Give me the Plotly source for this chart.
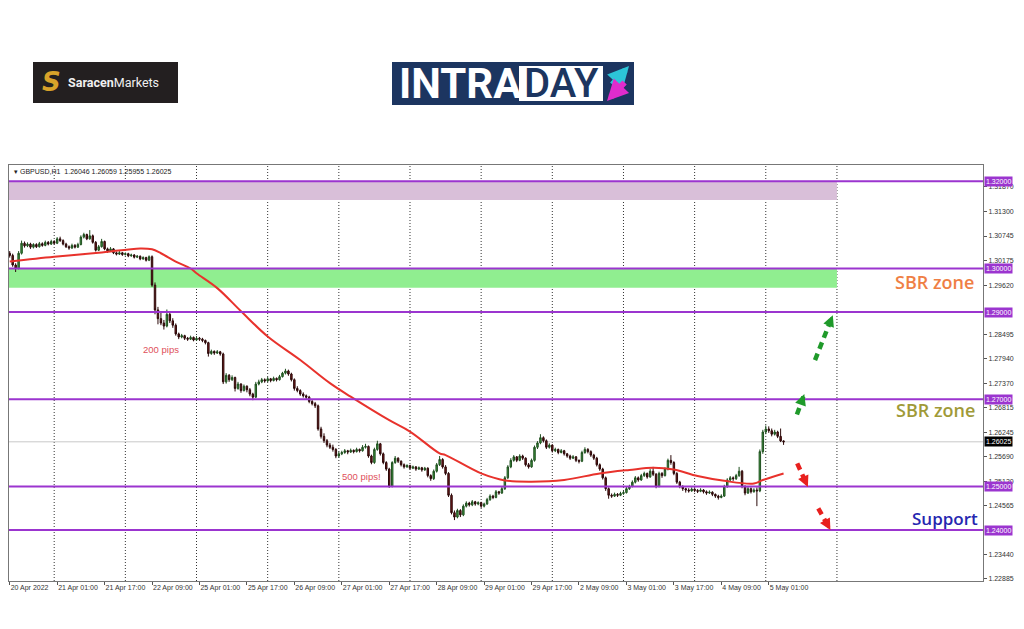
import math
import plotly.graph_objects as go

# ---------------- data ----------------
time_labels = ["20 Apr 2022", "21 Apr 01:00", "21 Apr 17:00", "22 Apr 09:00", "25 Apr 01:00",
               "25 Apr 17:00", "26 Apr 09:00", "27 Apr 01:00", "27 Apr 17:00", "28 Apr 09:00",
               "29 Apr 01:00", "29 Apr 17:00", "2 May 09:00", "3 May 01:00", "3 May 17:00",
               "4 May 09:00", "5 May 01:00"]
label_bars = [0, 16, 32, 48, 64, 80, 96, 112, 128, 144, 160, 176, 192, 208, 224, 240, 256]
day_breaks = [15, 39, 63, 87, 111, 135, 159, 183, 207, 231, 255, 279]

price_ticks = [1.22885, 1.23440, 1.24565, 1.25120, 1.25690, 1.26245, 1.26815, 1.27370,
               1.27940, 1.28495, 1.29620, 1.30175, 1.30745, 1.31300, 1.31870]

opens = [
 1.3035, 1.3030, 1.3008, 1.3000, 1.3035, 1.3058, 1.3052, 1.3056, 1.3049, 1.3055,
 1.3050, 1.3057, 1.3053, 1.3060, 1.3056, 1.3062, 1.3058, 1.3068, 1.3064, 1.3056,
 1.3050, 1.3047, 1.3053, 1.3049, 1.3055, 1.3072, 1.3078, 1.3068, 1.3075, 1.3060,
 1.3042, 1.3050, 1.3062, 1.3045, 1.3040, 1.3045, 1.3036, 1.3033, 1.3036, 1.3032,
 1.3034, 1.3029, 1.3031, 1.3026, 1.3028, 1.3022, 1.3025, 1.3019, 1.3027, 1.2962,
 1.2905, 1.2885, 1.2875, 1.2868, 1.2895, 1.2880, 1.2870, 1.2850, 1.2843, 1.2846,
 1.2840, 1.2838, 1.2842, 1.2836, 1.2840, 1.2838, 1.2835, 1.2830, 1.2805, 1.2810,
 1.2806, 1.2809, 1.2804, 1.2740, 1.2755, 1.2745, 1.2750, 1.2725, 1.2735, 1.2720,
 1.2730, 1.2722, 1.2712, 1.2705, 1.2735, 1.2740, 1.2745, 1.2742, 1.2747, 1.2743,
 1.2748, 1.2745, 1.2752, 1.2760, 1.2765, 1.2758, 1.2745, 1.2725, 1.2720, 1.2712,
 1.2708, 1.2705, 1.2695, 1.2690, 1.2685, 1.2632, 1.2615, 1.2605, 1.2595, 1.2590,
 1.2585, 1.2570, 1.2575, 1.2578, 1.2582, 1.2579, 1.2583, 1.2580, 1.2585, 1.2582,
 1.2590, 1.2592, 1.2570, 1.2555, 1.2585, 1.2598, 1.2575, 1.2555, 1.2540, 1.2500,
 1.2555, 1.2565, 1.2558, 1.2550, 1.2545, 1.2548, 1.2542, 1.2545, 1.2540, 1.2543,
 1.2538, 1.2542, 1.2525, 1.2518, 1.2535, 1.2550, 1.2562, 1.2545, 1.2530, 1.2480,
 1.2440, 1.2430, 1.2445, 1.2435, 1.2455, 1.2462, 1.2458, 1.2465, 1.2460, 1.2463,
 1.2455, 1.2460, 1.2470, 1.2478, 1.2475, 1.2488, 1.2485, 1.2495, 1.2520, 1.2545,
 1.2560, 1.2568, 1.2560, 1.2570, 1.2565, 1.2550, 1.2545, 1.2560, 1.2590, 1.2600,
 1.2612, 1.2605, 1.2590, 1.2595, 1.2582, 1.2585, 1.2578, 1.2582, 1.2575, 1.2570,
 1.2565, 1.2568, 1.2560, 1.2558, 1.2578, 1.2585, 1.2580, 1.2572, 1.2565, 1.2550,
 1.2540, 1.2520, 1.2495, 1.2480, 1.2478, 1.2482, 1.2480, 1.2484, 1.2486, 1.2495,
 1.2500, 1.2510, 1.2520, 1.2515, 1.2525, 1.2530, 1.2522, 1.2535, 1.2528, 1.2500,
 1.2530, 1.2525, 1.2540, 1.2560, 1.2555, 1.2530, 1.2510, 1.2500, 1.2495, 1.2492,
 1.2490, 1.2494, 1.2491, 1.2489, 1.2492, 1.2488, 1.2485, 1.2487, 1.2482, 1.2478,
 1.2475, 1.2478, 1.2500, 1.2515, 1.2520, 1.2518, 1.2525, 1.2535, 1.2500, 1.2485,
 1.2495, 1.2488, 1.2492, 1.2490, 1.2580, 1.2625, 1.2632, 1.2628, 1.2620, 1.2625,
 1.2615, 1.26046]

highs = [
 1.3040, 1.3034, 1.3012, 1.3040, 1.3064, 1.3062, 1.3060, 1.3059, 1.3058, 1.3058,
 1.3061, 1.3060, 1.3064, 1.3063, 1.3066, 1.3065, 1.3072, 1.3073, 1.3067, 1.3059,
 1.3053, 1.3057, 1.3056, 1.3059, 1.3076, 1.3082, 1.3080, 1.3088, 1.3078, 1.3063,
 1.3054, 1.3068, 1.3064, 1.3048, 1.3049, 1.3047, 1.3039, 1.3040, 1.3038, 1.3037,
 1.3036, 1.3034, 1.3033, 1.3031, 1.3030, 1.3028, 1.3027, 1.3030, 1.3030, 1.2968,
 1.2912, 1.2900, 1.2882, 1.2906, 1.2900, 1.2886, 1.2874, 1.2853, 1.2850, 1.2848,
 1.2843, 1.2846, 1.2844, 1.2845, 1.2843, 1.2841, 1.2837, 1.2832, 1.2814, 1.2812,
 1.2813, 1.2811, 1.2807, 1.2760, 1.2758, 1.2755, 1.2752, 1.2740, 1.2737, 1.2734,
 1.2732, 1.2726, 1.2715, 1.2740, 1.2745, 1.2749, 1.2748, 1.2751, 1.2749, 1.2752,
 1.2750, 1.2756, 1.2763, 1.2770, 1.2768, 1.2761, 1.2748, 1.2730, 1.2723, 1.2716,
 1.2711, 1.2708, 1.2699, 1.2694, 1.2688, 1.2637, 1.2622, 1.2609, 1.2600, 1.2596,
 1.2588, 1.2580, 1.2582, 1.2586, 1.2584, 1.2587, 1.2585, 1.2589, 1.2587, 1.2595,
 1.2598, 1.2594, 1.2573, 1.2589, 1.2605, 1.2600, 1.2578, 1.2558, 1.2543, 1.2558,
 1.2570, 1.2567, 1.2560, 1.2553, 1.2551, 1.2550, 1.2548, 1.2547, 1.2546, 1.2545,
 1.2545, 1.2544, 1.2528, 1.2539, 1.2554, 1.2570, 1.2565, 1.2549, 1.2533, 1.2484,
 1.2445, 1.2449, 1.2448, 1.2459, 1.2466, 1.2465, 1.2469, 1.2467, 1.2466, 1.2465,
 1.2463, 1.2474, 1.2482, 1.2481, 1.2492, 1.2490, 1.2499, 1.2524, 1.2549, 1.2565,
 1.2572, 1.2570, 1.2574, 1.2573, 1.2567, 1.2554, 1.2564, 1.2594, 1.2604, 1.2620,
 1.2615, 1.2608, 1.2599, 1.2597, 1.2589, 1.2587, 1.2586, 1.2584, 1.2577, 1.2573,
 1.2572, 1.2570, 1.2562, 1.2582, 1.2590, 1.2588, 1.2583, 1.2575, 1.2568, 1.2553,
 1.2543, 1.2523, 1.2498, 1.2484, 1.2486, 1.2485, 1.2488, 1.2490, 1.2499, 1.2504,
 1.2514, 1.2524, 1.2523, 1.2529, 1.2534, 1.2532, 1.2540, 1.2545, 1.2531, 1.2534,
 1.2533, 1.2544, 1.2564, 1.2572, 1.2558, 1.2533, 1.2513, 1.2503, 1.2497, 1.2496,
 1.2498, 1.2496, 1.2494, 1.2496, 1.2494, 1.2491, 1.2491, 1.2489, 1.2484, 1.2481,
 1.2482, 1.2504, 1.2519, 1.2524, 1.2523, 1.2529, 1.2545, 1.2538, 1.2503, 1.2499,
 1.2498, 1.2496, 1.2498, 1.2585, 1.2630, 1.2640, 1.2638, 1.2633, 1.2630, 1.2628,
 1.2633, 1.26059]

lows = [
 1.3025, 1.3004, 1.2992, 1.2998, 1.3032, 1.3048, 1.3049, 1.3045, 1.3046, 1.3047,
 1.3048, 1.3050, 1.3051, 1.3053, 1.3054, 1.3055, 1.3056, 1.3061, 1.3053, 1.3047,
 1.3043, 1.3045, 1.3046, 1.3047, 1.3053, 1.3069, 1.3065, 1.3066, 1.3057, 1.3039,
 1.3040, 1.3048, 1.3042, 1.3036, 1.3038, 1.3033, 1.3030, 1.3031, 1.3029, 1.3030,
 1.3026, 1.3027, 1.3023, 1.3024, 1.3019, 1.3020, 1.3016, 1.3017, 1.2958, 1.2895,
 1.2872, 1.2870, 1.2860, 1.2865, 1.2875, 1.2864, 1.2846, 1.2838, 1.2840, 1.2836,
 1.2834, 1.2836, 1.2833, 1.2834, 1.2834, 1.2831, 1.2826, 1.2798, 1.2802, 1.2802,
 1.2804, 1.2800, 1.2735, 1.2736, 1.2740, 1.2742, 1.2718, 1.2722, 1.2715, 1.2718,
 1.2716, 1.2707, 1.2698, 1.2703, 1.2732, 1.2737, 1.2738, 1.2740, 1.2739, 1.2741,
 1.2741, 1.2743, 1.2750, 1.2757, 1.2754, 1.2741, 1.2720, 1.2716, 1.2708, 1.2704,
 1.2701, 1.2691, 1.2686, 1.2680, 1.2628, 1.2610, 1.2600, 1.2590, 1.2586, 1.2580,
 1.2565, 1.2566, 1.2572, 1.2575, 1.2574, 1.2577, 1.2576, 1.2578, 1.2578, 1.2580,
 1.2587, 1.2566, 1.2551, 1.2552, 1.2582, 1.2571, 1.2551, 1.2536, 1.2497, 1.2498,
 1.2552, 1.2554, 1.2546, 1.2541, 1.2543, 1.2539, 1.2540, 1.2536, 1.2538, 1.2534,
 1.2536, 1.2521, 1.2513, 1.2515, 1.2532, 1.2547, 1.2541, 1.2526, 1.2476, 1.2436,
 1.2423, 1.2427, 1.2430, 1.2432, 1.2452, 1.2454, 1.2455, 1.2456, 1.2457, 1.2451,
 1.2452, 1.2458, 1.2467, 1.2471, 1.2473, 1.2481, 1.2483, 1.2492, 1.2517, 1.2542,
 1.2557, 1.2556, 1.2558, 1.2561, 1.2546, 1.2541, 1.2543, 1.2557, 1.2586, 1.2597,
 1.2601, 1.2586, 1.2587, 1.2578, 1.2579, 1.2574, 1.2576, 1.2571, 1.2566, 1.2561,
 1.2563, 1.2556, 1.2553, 1.2556, 1.2575, 1.2576, 1.2568, 1.2561, 1.2546, 1.2536,
 1.2516, 1.2490, 1.2472, 1.2474, 1.2476, 1.2476, 1.2478, 1.2481, 1.2484, 1.2492,
 1.2498, 1.2507, 1.2511, 1.2513, 1.2522, 1.2518, 1.2520, 1.2524, 1.2496, 1.2498,
 1.2520, 1.2523, 1.2537, 1.2550, 1.2526, 1.2506, 1.2496, 1.2490, 1.2486, 1.2486,
 1.2488, 1.2487, 1.2485, 1.2487, 1.2484, 1.2481, 1.2483, 1.2478, 1.2474, 1.2470,
 1.2473, 1.2476, 1.2497, 1.2512, 1.2513, 1.2515, 1.2522, 1.2496, 1.2480, 1.2483,
 1.2484, 1.2486, 1.2455, 1.2487, 1.2575, 1.2620, 1.2623, 1.2615, 1.2617, 1.2611,
 1.2602, 1.25955]

closes = [
 1.3030, 1.3008, 1.3000, 1.3035, 1.3058, 1.3052, 1.3056, 1.3049, 1.3055, 1.3050,
 1.3057, 1.3053, 1.3060, 1.3056, 1.3062, 1.3058, 1.3068, 1.3064, 1.3056, 1.3050,
 1.3047, 1.3053, 1.3049, 1.3055, 1.3072, 1.3078, 1.3068, 1.3075, 1.3060, 1.3042,
 1.3050, 1.3062, 1.3045, 1.3040, 1.3045, 1.3036, 1.3033, 1.3036, 1.3032, 1.3034,
 1.3029, 1.3031, 1.3026, 1.3028, 1.3022, 1.3025, 1.3019, 1.3027, 1.2962, 1.2905,
 1.2885, 1.2875, 1.2868, 1.2895, 1.2880, 1.2870, 1.2850, 1.2843, 1.2846, 1.2840,
 1.2838, 1.2842, 1.2836, 1.2840, 1.2838, 1.2835, 1.2830, 1.2805, 1.2810, 1.2806,
 1.2809, 1.2804, 1.2740, 1.2755, 1.2745, 1.2750, 1.2725, 1.2735, 1.2720, 1.2730,
 1.2722, 1.2712, 1.2705, 1.2735, 1.2740, 1.2745, 1.2742, 1.2747, 1.2743, 1.2748,
 1.2745, 1.2752, 1.2760, 1.2765, 1.2758, 1.2745, 1.2725, 1.2720, 1.2712, 1.2708,
 1.2705, 1.2695, 1.2690, 1.2685, 1.2632, 1.2615, 1.2605, 1.2595, 1.2590, 1.2585,
 1.2570, 1.2575, 1.2578, 1.2582, 1.2579, 1.2583, 1.2580, 1.2585, 1.2582, 1.2590,
 1.2592, 1.2570, 1.2555, 1.2585, 1.2598, 1.2575, 1.2555, 1.2540, 1.2500, 1.2555,
 1.2565, 1.2558, 1.2550, 1.2545, 1.2548, 1.2542, 1.2545, 1.2540, 1.2543, 1.2538,
 1.2542, 1.2525, 1.2518, 1.2535, 1.2550, 1.2562, 1.2545, 1.2530, 1.2480, 1.2440,
 1.2430, 1.2445, 1.2435, 1.2455, 1.2462, 1.2458, 1.2465, 1.2460, 1.2463, 1.2455,
 1.2460, 1.2470, 1.2478, 1.2475, 1.2488, 1.2485, 1.2495, 1.2520, 1.2545, 1.2560,
 1.2568, 1.2560, 1.2570, 1.2565, 1.2550, 1.2545, 1.2560, 1.2590, 1.2600, 1.2612,
 1.2605, 1.2590, 1.2595, 1.2582, 1.2585, 1.2578, 1.2582, 1.2575, 1.2570, 1.2565,
 1.2568, 1.2560, 1.2558, 1.2578, 1.2585, 1.2580, 1.2572, 1.2565, 1.2550, 1.2540,
 1.2520, 1.2495, 1.2480, 1.2478, 1.2482, 1.2480, 1.2484, 1.2486, 1.2495, 1.2500,
 1.2510, 1.2520, 1.2515, 1.2525, 1.2530, 1.2522, 1.2535, 1.2528, 1.2500, 1.2530,
 1.2525, 1.2540, 1.2560, 1.2555, 1.2530, 1.2510, 1.2500, 1.2495, 1.2492, 1.2490,
 1.2494, 1.2491, 1.2489, 1.2492, 1.2488, 1.2485, 1.2487, 1.2482, 1.2478, 1.2475,
 1.2478, 1.2500, 1.2515, 1.2520, 1.2518, 1.2525, 1.2535, 1.2500, 1.2485, 1.2495,
 1.2488, 1.2492, 1.2490, 1.2580, 1.2625, 1.2632, 1.2628, 1.2620, 1.2625, 1.2615,
 1.26046, 1.26025]

# moving average (bar index, value)
ma_bars = [0, 15, 30, 44, 48, 51, 56, 61, 63, 70, 78, 87, 98, 108, 115, 128, 135, 145,
           147, 159, 167, 176, 187, 199, 209, 217, 224, 232, 241, 251, 254, 261]
ma_vals = [1.3016, 1.3027, 1.3036, 1.3046, 1.3044, 1.3035, 1.3016, 1.3000, 1.2989, 1.2955,
           1.2902, 1.2844, 1.2790, 1.2737, 1.2706, 1.2652, 1.2626, 1.2576, 1.2572, 1.2530,
           1.2514, 1.2511, 1.2515, 1.2530, 1.2538, 1.2543, 1.2539, 1.2524, 1.2513, 1.2507,
           1.2515, 1.2530]

levels = [1.3200, 1.3000, 1.2900, 1.2700, 1.2500, 1.2400]
zone_tops = [1.3200, 1.3000]
zone_bottoms = [1.3157, 1.2956]
zone_colors = ["#d9bfd9", "#90ee90"]
last_price = 1.26025

green_arrow_from = [(265.5, 1.2665), (271.6, 1.2790)]
green_arrow_to = [(268.0, 1.2712), (277.6, 1.2893)]
red_arrow_from = [(265.6, 1.2553), (272.7, 1.2450)]
red_arrow_to = [(269.2, 1.2499), (276.8, 1.2400)]

assert len(opens) == len(highs) == len(lows) == len(closes) == 262

bars = list(range(len(closes)))

# ---------------- layout helpers ----------------
FIG_W, FIG_H = 1024, 629
PL, PT, PR, PB = 9, 165, 983, 581
PW, PH = PR - PL, PB - PT
X_RANGE = [-0.24, 328.26]
Y_RANGE = [1.22833, 1.32374]
X_SCALE = PW / (X_RANGE[1] - X_RANGE[0])   # px per bar
Y_SCALE = PH / (Y_RANGE[1] - Y_RANGE[0])   # px per price unit


def px(x):
    return (x - PL) / PW


def py(y):
    return (PB - y) / PH


fig = go.Figure()

fig.add_trace(go.Candlestick(
    x=bars, open=opens, high=highs, low=lows, close=closes,
    increasing=dict(line=dict(color="#1f4f1f", width=1), fillcolor="#3c9a3c"),
    decreasing=dict(line=dict(color="#2a0808", width=1), fillcolor="#7a1a1a"),
    whiskerwidth=0, hoverinfo="skip", showlegend=False))

fig.add_trace(go.Scatter(
    x=ma_bars, y=ma_vals, mode="lines", line=dict(color="#e8322c", width=2, shape="spline"),
    hoverinfo="skip", showlegend=False))

ann = []

for starts, ends, col in ((green_arrow_from, green_arrow_to, "#1f9a2a"),
                          (red_arrow_from, red_arrow_to, "#e8201e")):
    for (x0, y0), (x1, y1) in zip(starts, ends):
        # dashed shaft
        xm, ym = x1 - 0.12 * (x1 - x0), y1 - 0.12 * (y1 - y0)
        fig.add_trace(go.Scatter(
            x=[x0, xm], y=[y0, ym], mode="lines",
            line=dict(color=col, width=4.5, dash="7px,5px"),
            hoverinfo="skip", showlegend=False))
        # arrow head: tail offset in screen pixels along the arrow direction
        dxp = (x1 - x0) * X_SCALE
        dyp = -(y1 - y0) * Y_SCALE
        n = math.hypot(dxp, dyp)
        ann.append(dict(xref="x", yref="y", x=x1, y=y1,
                        ax=-dxp / n * 8, ay=-dyp / n * 8,
                        text="", showarrow=True, arrowhead=2, arrowsize=0.75, arrowwidth=3,
                        arrowcolor=col, standoff=0))

shapes = []
# zones
for top, bot, col in zip(zone_tops, zone_bottoms, zone_colors):
    shapes.append(dict(type="rect", xref="x", yref="y", x0=-2, x1=day_breaks[-1], y0=bot, y1=top,
                       fillcolor=col, line=dict(width=0), layer="below"))
# day separators
for b in day_breaks:
    shapes.append(dict(type="line", xref="x", yref="paper", x0=b, x1=b, y0=0, y1=1,
                       line=dict(color="#333333", width=1, dash="1px,2px"), layer="below"))
# current price line
shapes.append(dict(type="line", xref="paper", yref="y", x0=0, x1=1, y0=last_price, y1=last_price,
                   line=dict(color="#c8c8c8", width=1), layer="below"))
# purple levels
for lv in levels:
    shapes.append(dict(type="line", xref="paper", yref="y", x0=0, x1=1, y0=lv, y1=lv,
                       line=dict(color="#9b35cf", width=2), layer="above"))

# logos (decoration, pixel based)
shapes.append(dict(type="rect", xref="paper", yref="paper", x0=px(33), x1=px(178), y0=py(103), y1=py(62),
                   fillcolor="#231f20", line=dict(width=0)))
shapes.append(dict(type="rect", xref="paper", yref="paper", x0=px(392), x1=px(634), y0=py(105), y1=py(62),
                   fillcolor="#1c3560", line=dict(width=0)))
shapes.append(dict(type="rect", xref="paper", yref="paper", x0=px(519), x1=px(603), y0=py(101), y1=py(66),
                   fillcolor="#ffffff", line=dict(width=0)))

# price tags
for lv in levels:
    ann.append(dict(xref="paper", yref="y", x=1, y=lv, xanchor="left", yanchor="middle", xshift=1,
                    text=f"{lv:.5f}", showarrow=False, bgcolor="#9b35cf", borderpad=1,
                    font=dict(family="Liberation Sans", size=7, color="white")))
ann.append(dict(xref="paper", yref="y", x=1, y=last_price, xanchor="left", yanchor="middle", xshift=1,
                text=f"{last_price:.5f}", showarrow=False, bgcolor="#000000", borderpad=1,
                font=dict(family="Liberation Sans", size=7, color="white")))
# chart header
ann.append(dict(xref="paper", yref="paper", x=px(12), y=py(171.5), xanchor="left", yanchor="middle",
                text="▾ GBPUSD,H1  1.26046 1.26059 1.25955 1.26025", showarrow=False,
                font=dict(family="Liberation Sans", size=7, color="#222222")))
# notes
ann.append(dict(xref="x", yref="y", x=51, y=1.2815, text="200 pips", showarrow=False,
                xanchor="center", yanchor="middle",
                font=dict(family="Liberation Sans", size=9.5, color="#e0505a")))
ann.append(dict(xref="x", yref="y", x=118.7, y=1.2522, text="500 pips!", showarrow=False,
                xanchor="center", yanchor="middle",
                font=dict(family="Liberation Sans", size=9.5, color="#e0505a")))
ann.append(dict(xref="x", yref="y", x=326.0, y=1.2970, xanchor="right", yanchor="middle",
                text="SBR zone", showarrow=False,
                font=dict(family="Open Sans", size=18, color="#ef7f45", weight=600)))
ann.append(dict(xref="x", yref="y", x=326.2, y=1.2676, xanchor="right", yanchor="middle",
                text="SBR zone", showarrow=False,
                font=dict(family="Open Sans", size=18, color="#a09a38", weight=600)))
ann.append(dict(xref="x", yref="y", x=327.2, y=1.2426, xanchor="right", yanchor="middle",
                text="Support", showarrow=False,
                font=dict(family="Open Sans", size=17, color="#2626b0", weight=600)))
# logo texts
ann.append(dict(xref="paper", yref="paper", x=px(51), y=py(82), xanchor="center", yanchor="middle",
                text="<b><i>S</i></b>", showarrow=False,
                font=dict(family="DejaVu Sans", size=26, color="#d8a22a")))
ann.append(dict(xref="paper", yref="paper", x=px(66), y=py(82.5), xanchor="left", yanchor="middle",
                text="<b>Saracen</b>Markets", showarrow=False,
                font=dict(family="Roboto", size=12.5, color="#f0f0f0")))
ann.append(dict(xref="paper", yref="paper", x=px(397), y=py(84), xanchor="left", yanchor="middle",
                text="<b>INTRA</b>", showarrow=False,
                font=dict(family="Roboto", size=42, color="#ffffff")))
ann.append(dict(xref="paper", yref="paper", x=px(561), y=py(84), xanchor="center", yanchor="middle",
                text="DAY", showarrow=False,
                font=dict(family="Roboto", size=40, color="#1c3560", weight=500)))
ann.append(dict(xref="paper", yref="paper", x=px(629), y=py(66), ax=-18, ay=20, text="",
                showarrow=True, arrowhead=2, arrowsize=0.7, arrowwidth=6, arrowcolor="#2cc5d8"))
ann.append(dict(xref="paper", yref="paper", x=px(607), y=py(101), ax=19, ay=-20, text="",
                showarrow=True, arrowhead=2, arrowsize=0.7, arrowwidth=6, arrowcolor="#e02ccc"))

fig.update_layout(
    width=FIG_W, height=FIG_H,
    margin=dict(l=PL, r=FIG_W - PR, t=PT, b=FIG_H - PB, pad=0),
    paper_bgcolor="white", plot_bgcolor="white",
    showlegend=False, shapes=shapes, annotations=ann,
    xaxis=dict(range=X_RANGE, tickvals=label_bars, ticktext=time_labels,
               ticks="outside", ticklen=3, tickcolor="#555555", tickangle=0,
               ticklabelposition="outside right",
               tickfont=dict(family="Liberation Sans", size=7, color="#333333"),
               showgrid=False, zeroline=False, showline=True, linecolor="#777777", linewidth=1,
               mirror=True, rangeslider=dict(visible=False), fixedrange=True),
    yaxis=dict(side="right", range=Y_RANGE, tickvals=price_ticks, tickformat=".5f",
               ticks="outside", ticklen=3, tickcolor="#555555",
               tickfont=dict(family="Liberation Sans", size=7, color="#333333"),
               showgrid=False, zeroline=False, showline=True, linecolor="#777777", linewidth=1,
               mirror=True, fixedrange=True),
)

fig.write_html("out.html", config={"displayModeBar": False},
               post_script="document.body.style.margin='0';document.body.style.overflow='hidden';")
